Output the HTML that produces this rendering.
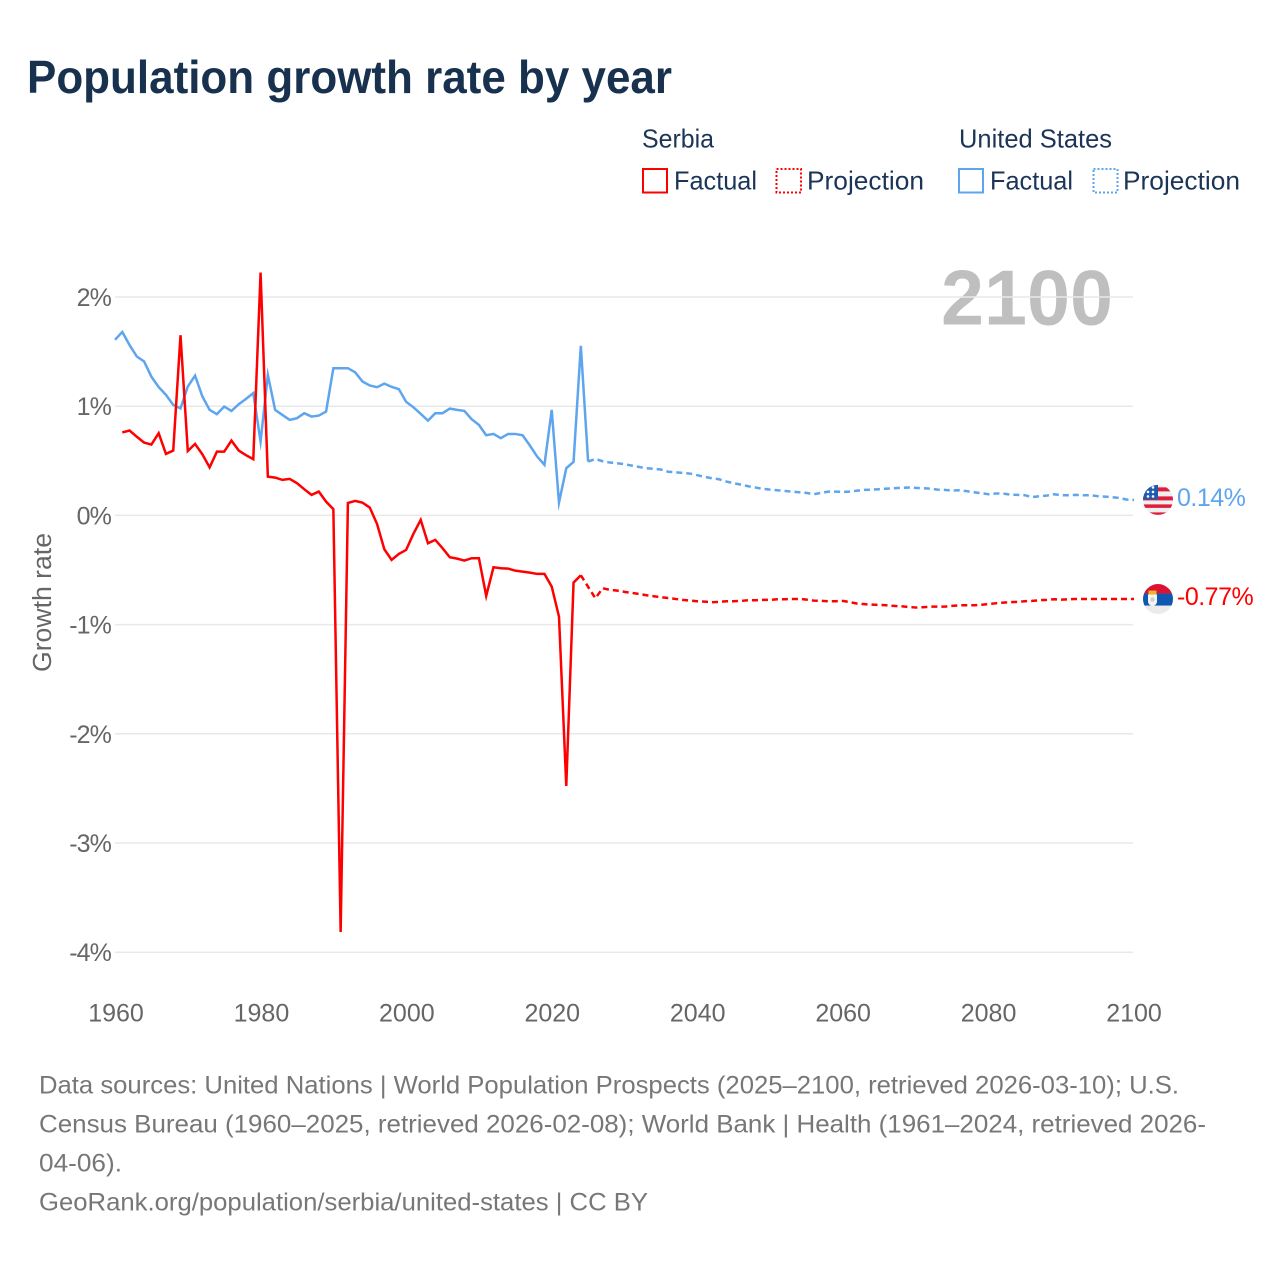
<!DOCTYPE html>
<html lang="en">
<head>
<meta charset="utf-8">
<title>Population growth rate by year</title>
<style>
  html, body { margin: 0; padding: 0; background: #ffffff; }
  body { width: 1280px; height: 1280px; overflow: hidden; }
  svg { display: block; font-family: "Liberation Sans", Arial, sans-serif; }
  .legend-text { font-size: 26px; fill: #1c3557; }
  .tick { font-size: 25px; fill: #666666; }
  .foot { font-size: 25px; fill: #777777; }
</style>
</head>
<body>
<svg id="chart" width="1280" height="1280" viewBox="0 0 1280 1280" xmlns="http://www.w3.org/2000/svg">
  <defs>
    <clipPath id="flag-clip"><circle cx="0" cy="0" r="15"></circle></clipPath>
  </defs>

  <text x="27" y="93" font-size="46" font-weight="700" fill="#17314f" textLength="645" lengthAdjust="spacingAndGlyphs">Population growth rate by year</text>

  <g>
    <text class="legend-text" x="642" y="147.5" textLength="72" lengthAdjust="spacingAndGlyphs">Serbia</text>
    <rect x="643" y="169" width="24" height="23.5" fill="none" stroke="#ff0000" stroke-width="2"></rect>
    <text class="legend-text" x="674" y="189.5" textLength="83" lengthAdjust="spacingAndGlyphs">Factual</text>
    <rect x="776.5" y="169" width="24.5" height="23.5" fill="none" stroke="#ff0000" stroke-width="2" stroke-dasharray="2 2"></rect>
    <text class="legend-text" x="807" y="189.5" textLength="117" lengthAdjust="spacingAndGlyphs">Projection</text>

    <text class="legend-text" x="959" y="147.5" textLength="153" lengthAdjust="spacingAndGlyphs">United States</text>
    <rect x="959" y="169" width="24" height="23.5" fill="none" stroke="#5ea5ee" stroke-width="2"></rect>
    <text class="legend-text" x="990" y="189.5" textLength="83" lengthAdjust="spacingAndGlyphs">Factual</text>
    <rect x="1093.5" y="169" width="24" height="23.5" fill="none" stroke="#5ea5ee" stroke-width="2" stroke-dasharray="2 2"></rect>
    <text class="legend-text" x="1123" y="189.5" textLength="117" lengthAdjust="spacingAndGlyphs">Projection</text>
  </g>

  <text x="941" y="324.5" font-size="78" font-weight="700" fill="#000000" fill-opacity="0.25" textLength="172" lengthAdjust="spacingAndGlyphs">2100</text>

  <g id="grid"></g>
  <g id="y-ticks"></g>
  <g id="x-ticks"></g>

  <text x="51" y="602.5" transform="rotate(-90 51 602.5)" text-anchor="middle" font-size="25.5" fill="#666666" textLength="139" lengthAdjust="spacingAndGlyphs">Growth rate</text>

  <g id="series"></g>

  <g id="flag-us" clip-path="url(#flag-clip)">
    <rect x="-16" y="-16" width="32" height="32" fill="#efefef"></rect>
    <rect x="-16" y="-12.5" width="32" height="4" fill="#dc1f3c"></rect>
    <rect x="-16" y="-3.5" width="32" height="4" fill="#dc1f3c"></rect>
    <rect x="-16" y="4.5" width="32" height="3.5" fill="#dc1f3c"></rect>
    <rect x="-16" y="12.5" width="32" height="3.5" fill="#dc1f3c"></rect>
    <rect x="-16" y="-16" width="16" height="15.5" fill="#1d5bb0"></rect>
    <g fill="#ffffff">
      <circle cx="-10" cy="-3.5" r="1.3"></circle><circle cx="-5" cy="-3.5" r="1.3"></circle>
      <circle cx="-10" cy="-8" r="1.3"></circle><circle cx="-5" cy="-8" r="1.3"></circle>
      <circle cx="-5" cy="-12.5" r="1.3"></circle>
    </g>
  </g>

  <g id="flag-rs" clip-path="url(#flag-clip)">
    <rect x="-16" y="-16" width="32" height="32" fill="#ebebeb"></rect>
    <rect x="-16" y="-16" width="32" height="10.5" fill="#dc1230"></rect>
    <rect x="-16" y="-5.5" width="32" height="12" fill="#0f57b0"></rect>
    <path d="M-10 -4.5 L-1 -4.5 L-1 2.5 Q-1 6 -5.5 7 Q-10 6 -10 2.5 Z" fill="#f4f4f4"></path>
    <rect x="-9.5" y="-8.5" width="8" height="4" fill="#f0b429"></rect>
    <circle cx="-5.5" cy="0.5" r="2.2" fill="#cfcfcf"></circle>
  </g>

  <g id="end-labels"></g>

  <g>
    <text class="foot" x="39" y="1093.5" textLength="1140" lengthAdjust="spacingAndGlyphs">Data sources: United Nations | World Population Prospects (2025–2100, retrieved 2026-03-10); U.S.</text>
    <text class="foot" x="39" y="1132.5" textLength="1167" lengthAdjust="spacingAndGlyphs">Census Bureau (1960–2025, retrieved 2026-02-08); World Bank | Health (1961–2024, retrieved 2026-</text>
    <text class="foot" x="39" y="1171.5" textLength="83" lengthAdjust="spacingAndGlyphs">04-06).</text>
    <text class="foot" x="39" y="1210.5" textLength="609" lengthAdjust="spacingAndGlyphs">GeoRank.org/population/serbia/united-states | CC BY</text>
  </g>
</svg>

<script>
// Chart data
const yTickValues = [2, 1, 0, -1, -2, -3, -4];
const xTickYears = [1960, 1980, 2000, 2020, 2040, 2060, 2080, 2100];

const usFactualStartYear = 1960;
const usFactualValues = [
  1.608, 1.68, 1.56, 1.455, 1.41, 1.27, 1.175, 1.104, 1.012, 0.98,
  1.18, 1.28, 1.09, 0.966, 0.927, 0.997, 0.957, 1.018, 1.067, 1.12,
  0.676, 1.287, 0.966, 0.92, 0.875, 0.89, 0.936, 0.905, 0.914, 0.951,
  1.348, 1.348, 1.348, 1.31, 1.226, 1.19, 1.174, 1.207, 1.177, 1.156,
  1.04, 0.99, 0.93, 0.868, 0.936, 0.936, 0.978, 0.966, 0.957, 0.881,
  0.829, 0.734, 0.746, 0.707, 0.746, 0.746, 0.734, 0.64, 0.539, 0.463,
  0.966, 0.117, 0.432, 0.49, 1.553, 0.493
];

const usProjectionStartYear = 2025;
const usProjectionValues = [
  0.493, 0.517, 0.496, 0.484, 0.478, 0.469, 0.456, 0.444, 0.432, 0.426,
  0.42, 0.40, 0.395, 0.389, 0.383, 0.368, 0.353, 0.34, 0.331, 0.31,
  0.295, 0.282, 0.267, 0.255, 0.243, 0.236, 0.23, 0.224, 0.218, 0.212,
  0.206, 0.194, 0.206, 0.218, 0.218, 0.215, 0.218, 0.227, 0.234, 0.236,
  0.24, 0.245, 0.249, 0.252, 0.255, 0.252, 0.249, 0.245, 0.236, 0.234,
  0.227, 0.23, 0.222, 0.212, 0.203, 0.194, 0.2, 0.2, 0.19, 0.188,
  0.185, 0.167, 0.176, 0.181, 0.194, 0.185, 0.185, 0.188, 0.185, 0.185,
  0.176, 0.172, 0.167, 0.16, 0.145, 0.142
];

const serbiaFactualStartYear = 1961;
const serbiaFactualValues = [
  0.76, 0.777, 0.72, 0.667, 0.649, 0.753, 0.563, 0.594, 1.65,
  0.59, 0.655, 0.56, 0.44, 0.584, 0.584, 0.685, 0.594, 0.551, 0.515,
  2.224, 0.355, 0.346, 0.325, 0.334, 0.295, 0.24, 0.188, 0.218, 0.126,
  0.057, -3.815, 0.114, 0.133, 0.117, 0.072, -0.078, -0.31, -0.408, -0.353,
  -0.316, -0.169, -0.041, -0.255, -0.224, -0.30, -0.383, -0.396, -0.414, -0.392,
  -0.392, -0.737, -0.475, -0.484, -0.487, -0.506, -0.515, -0.524, -0.536, -0.536,
  -0.652, -0.927, -2.478, -0.615, -0.548
];

const serbiaProjectionStartYear = 2024;
const serbiaProjectionValues = [
  -0.548, -0.654, -0.759, -0.667, -0.682, -0.689, -0.70, -0.71, -0.719, -0.731,
  -0.74, -0.75, -0.756, -0.765, -0.774, -0.78, -0.786, -0.79, -0.795, -0.792,
  -0.786, -0.786, -0.783, -0.777, -0.777, -0.774, -0.774, -0.768, -0.768, -0.765,
  -0.765, -0.771, -0.78, -0.783, -0.786, -0.786, -0.783, -0.795, -0.808, -0.813,
  -0.817, -0.82, -0.823, -0.829, -0.832, -0.838, -0.844, -0.841, -0.835, -0.835,
  -0.835, -0.829, -0.823, -0.823, -0.823, -0.82, -0.811, -0.805, -0.799, -0.795,
  -0.792, -0.786, -0.783, -0.777, -0.774, -0.768, -0.771, -0.768, -0.765, -0.765,
  -0.766, -0.766, -0.766, -0.766, -0.766, -0.766, -0.766
];

// Axis functions
function xScale(year) { return 116 + (year - 1960) * (1134 - 116) / 140; }
function lineX(year) { return 115 + (year - 1960) * (1134 - 115) / 140; }
function yScale(value) { return 515.4 - value * 109.2; }

const SVG_NS = 'http://www.w3.org/2000/svg';
const gridGroup = document.getElementById('grid');
const yTickGroup = document.getElementById('y-ticks');
const xTickGroup = document.getElementById('x-ticks');
const seriesGroup = document.getElementById('series');
const endLabelGroup = document.getElementById('end-labels');

yTickValues.forEach(function (v) {
  const line = document.createElementNS(SVG_NS, 'line');
  line.setAttribute('x1', 115);
  line.setAttribute('x2', 1133);
  line.setAttribute('y1', yScale(v));
  line.setAttribute('y2', yScale(v));
  line.setAttribute('stroke', '#e9e9e9');
  line.setAttribute('stroke-width', '1.5');
  
  
  gridGroup.appendChild(line);

  const label = document.createElementNS(SVG_NS, 'text');
  label.setAttribute('class', 'tick');
  label.setAttribute('x', 111);
  label.setAttribute('y', yScale(v) + 9);
  label.setAttribute('text-anchor', 'end');
  label.setAttribute('letter-spacing', '-0.9');
  
  
  label.textContent = v + '%';
  yTickGroup.appendChild(label);
});

xTickYears.forEach(function (yr) {
  const label = document.createElementNS(SVG_NS, 'text');
  label.setAttribute('class', 'tick');
  label.setAttribute('x', xScale(yr));
  label.setAttribute('y', 1021.5);
  label.setAttribute('text-anchor', 'middle');
  
  
  label.textContent = String(yr);
  xTickGroup.appendChild(label);
});

function linePath(startYear, values) {
  return values.map(function (v, i) {
    return (i === 0 ? 'M' : 'L') + lineX(startYear + i).toFixed(2) + ' ' + yScale(v).toFixed(2);
  }).join(' ');
}

function drawSeries(name, startYear, values, color, dashed) {
  const path = document.createElementNS(SVG_NS, 'path');
  path.setAttribute('d', linePath(startYear, values));
  path.setAttribute('fill', 'none');
  path.setAttribute('stroke', color);
  path.setAttribute('stroke-width', '2.5');
  path.setAttribute('stroke-linejoin', 'miter');
  path.setAttribute('stroke-miterlimit', '8');
  if (dashed) {
    path.setAttribute('stroke-dasharray', '6 4');
  }
  
  
  seriesGroup.appendChild(path);
}

drawSeries('line-us-factual', usFactualStartYear, usFactualValues, '#5ea5ee', false);
drawSeries('line-us-projection', usProjectionStartYear, usProjectionValues, '#5ea5ee', true);
drawSeries('line-serbia-factual', serbiaFactualStartYear, serbiaFactualValues, '#ff0000', false);
drawSeries('line-serbia-projection', serbiaProjectionStartYear, serbiaProjectionValues, '#ff0000', true);

function placeEnd(flagId, labelName, values, color) {
  const last = values[values.length - 1];
  const cy = yScale(last);
  document.getElementById(flagId).setAttribute('transform', 'translate(1158 ' + cy.toFixed(2) + ')');
  const label = document.createElementNS(SVG_NS, 'text');
  label.setAttribute('x', 1177);
  label.setAttribute('y', cy + 6);
  label.setAttribute('font-size', '25');
  label.setAttribute('letter-spacing', '-0.5');
  label.setAttribute('fill', color);
  
  
  label.textContent = last.toFixed(2) + '%';
  endLabelGroup.appendChild(label);
}

placeEnd('flag-us', 'end-label-us', usProjectionValues, '#5ea5ee');
placeEnd('flag-rs', 'end-label-serbia', serbiaProjectionValues, '#ff0000');
</script>
</body>
</html>
